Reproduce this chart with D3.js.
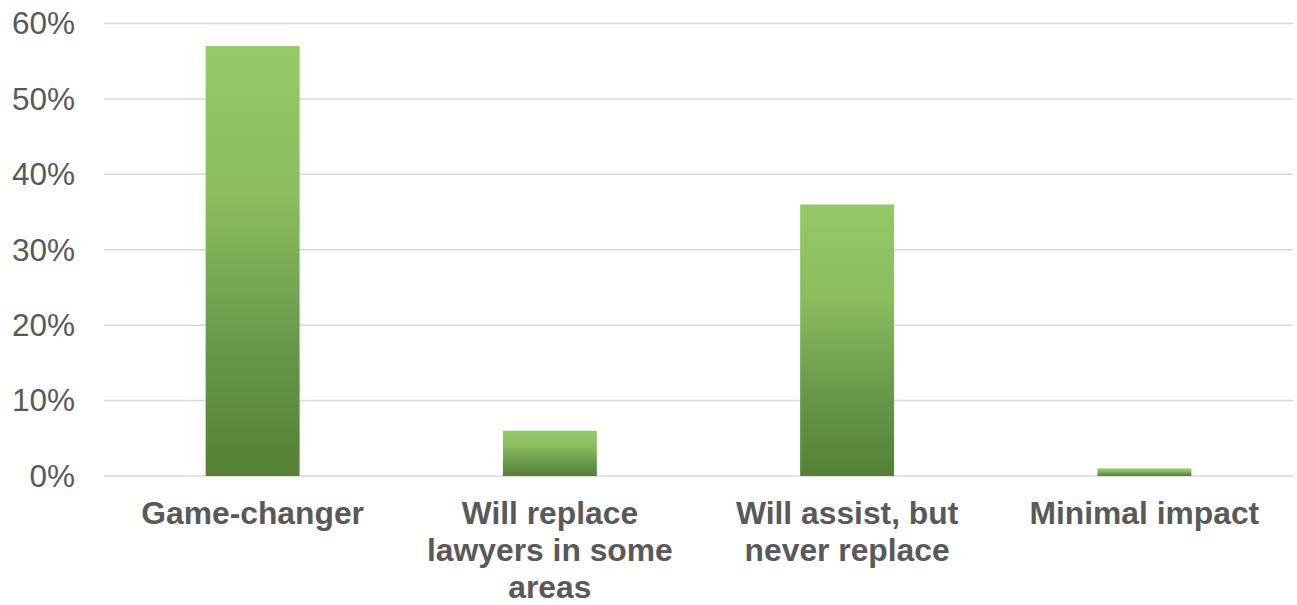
<!DOCTYPE html>
<html>
<head>
<meta charset="utf-8">
<script src="https://cdn.jsdelivr.net/npm/d3@7"></script>
<style>
  html, body { margin: 0; padding: 0; background: #ffffff; }
  svg { display: block; }
</style>
</head>
<body>
<svg id="chart" width="1297" height="605"></svg>
<script>
// Survey responses: expected impact on lawyers
const categories = [
  ["Game-changer"],
  ["Will replace", "lawyers in some", "areas"],
  ["Will assist, but", "never replace"],
  ["Minimal impact"]
];
const values = [57, 6, 36, 1];
const tickValues = [0, 10, 20, 30, 40, 50, 60];

const W = 1297, H = 605;
const plot = { left: 104, right: 1293, top: 23.5, bottom: 476 };

const svg = d3.select("#chart");

// Vertical gradient for each bar (light green top, darker green bottom)
const defs = svg.append("defs");
const grad = defs.append("linearGradient")
  .attr("id", "barGrad")
  .attr("x1", 0).attr("y1", 0).attr("x2", 0).attr("y2", 1);
grad.append("stop").attr("offset", "0%").attr("stop-color", "#93ca67");
grad.append("stop").attr("offset", "35%").attr("stop-color", "#8bbd5e");
grad.append("stop").attr("offset", "70%").attr("stop-color", "#67984a");
grad.append("stop").attr("offset", "100%").attr("stop-color", "#548133");

const x = d3.scaleBand()
  .domain(d3.range(categories.length))
  .range([plot.left, plot.right])
  .padding(0);

const y = d3.scaleLinear()
  .domain([0, 60])
  .range([plot.bottom, plot.top]);

// Gridlines
svg.append("g")
  .selectAll("line")
  .data(tickValues)
  .join("line")
  .attr("x1", plot.left)
  .attr("x2", plot.right)
  .attr("y1", d => y(d))
  .attr("y2", d => y(d))
  .attr("stroke", "#d9d9d9")
  .attr("stroke-width", 1.5);

// Y-axis labels
const yAxis = d3.axisLeft(y)
  .tickValues(tickValues)
  .tickFormat(d => d + "%")
  .tickSize(0)
  .tickPadding(0);

const yg = svg.append("g")
  .attr("transform", `translate(75,0)`)
  .call(yAxis);
yg.select(".domain").remove();
yg.selectAll("text")
  .attr("font-family", "Liberation Sans, Arial, sans-serif")
  .attr("font-size", 31.5)
  .attr("fill", "#595959")
  .attr("dy", "0.33em");

// Bars
const barFrac = 0.316;
const barW = x.bandwidth() * barFrac;
svg.append("g")
  .selectAll("rect")
  .data(values)
  .join("rect")
  .attr("x", (d, i) => x(i) + (x.bandwidth() - barW) / 2)
  .attr("width", barW)
  .attr("y", d => y(d))
  .attr("height", d => y(0) - y(d))
  .attr("fill", "url(#barGrad)");

// Category labels
const labels = svg.append("g")
  .selectAll("text")
  .data(categories)
  .join("text")
  .attr("x", (d, i) => x(i) + x.bandwidth() / 2)
  .attr("y", 523.5)
  .attr("text-anchor", "middle")
  .attr("font-family", "Liberation Sans, Arial, sans-serif")
  .attr("font-size", 31.8)
  .attr("font-weight", "bold")
  .attr("fill", "#595959");

labels.selectAll("tspan")
  .data(d => d)
  .join("tspan")
  .attr("x", function () { return d3.select(this.parentNode).attr("x"); })
  .attr("dy", (d, i) => i === 0 ? 0 : 37)
  .text(d => d);
</script>
</body>
</html>
